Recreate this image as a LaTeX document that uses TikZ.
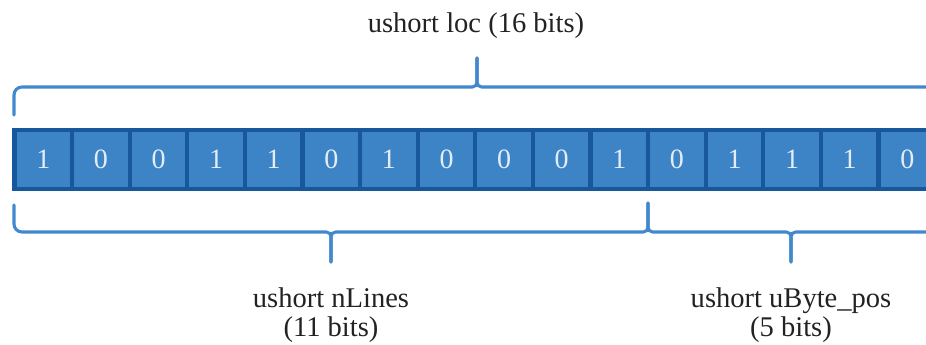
\documentclass[tikz,border=0pt]{standalone}
\usepackage{fontspec}
\setmainfont{Liberation Serif}
\definecolor{cellborder}{HTML}{16589B}
\definecolor{cellfill}{HTML}{3D84C6}
\definecolor{bracecol}{HTML}{4189CE}
\definecolor{digitcol}{HTML}{E4EDF7}
\definecolor{labelcol}{HTML}{222222}
\begin{document}
\begin{tikzpicture}[x=0.75pt,y=-0.75pt,
  bitcell/.style={rectangle, draw=cellborder, fill=cellfill, line width=3.2pt,
    minimum width=43.2pt, minimum height=44pt, inner sep=0pt, outer sep=0pt,
    text=digitcol, font=\fontsize{21}{24}\selectfont},
  bracket/.style={draw=bracecol, line width=2.3pt, line cap=round},
  lbl/.style={font=\fontsize{21.4}{24}\selectfont, anchor=base, inner sep=0pt, text=labelcol}]
\useasboundingbox (0,0) rectangle (926,345);
\clip (0,0) rectangle (926,345);
\fill[white] (0,0) rectangle (926,345);
% bit cells
\foreach \b [count=\i] in {1,0,0,1,1,0,1,0,0,0,1,0,1,1,1,0}
  \node[bitcell] (c\i) at ({43.3+57.6*(\i-1)},159.5) {\b};
% brace coordinates
\coordinate (locL) at (14,115);
\coordinate (locTip) at (477,58);
\coordinate (locR) at (950,87);
\coordinate (nlL) at (14,205);
\coordinate (nlTip) at (331,262);
\coordinate (split) at (648,203);
\coordinate (ubTip) at (791,262);
\coordinate (ubR) at (950,232);
% top brace
\draw[bracket] (locL) [rounded corners=6pt] -- (14,87) [rounded corners=3.5pt] -- (477,87) -- (locTip);
\draw[bracket] (locTip) [rounded corners=3.5pt] -- (477,87) -- (locR);
% bottom brace: nLines
\draw[bracket] (nlL) [rounded corners=6pt] -- (14,232) [rounded corners=3.5pt] -- (331,232) -- (nlTip);
\draw[bracket] (nlTip) [rounded corners=3.5pt] -- (331,232) -- (648,232) -- (split);
% bottom brace: uByte_pos
\draw[bracket] (split) [rounded corners=3.5pt] -- (648,232) -- (791,232) -- (ubTip);
\draw[bracket] (ubTip) [rounded corners=3.5pt] -- (791,232) -- (ubR);
% labels
\node[lbl] (loc) at (476,33) {ushort loc (16 bits)};
\node[lbl] (nl1) at (331,308) {ushort nLines};
\node[lbl] (nl2) at (331,337) {(11 bits)};
\node[lbl] (ub1) at (791,308) {ushort uByte\_pos};
\node[lbl] (ub2) at (791,337) {(5 bits)};
\end{tikzpicture}
\end{document}
